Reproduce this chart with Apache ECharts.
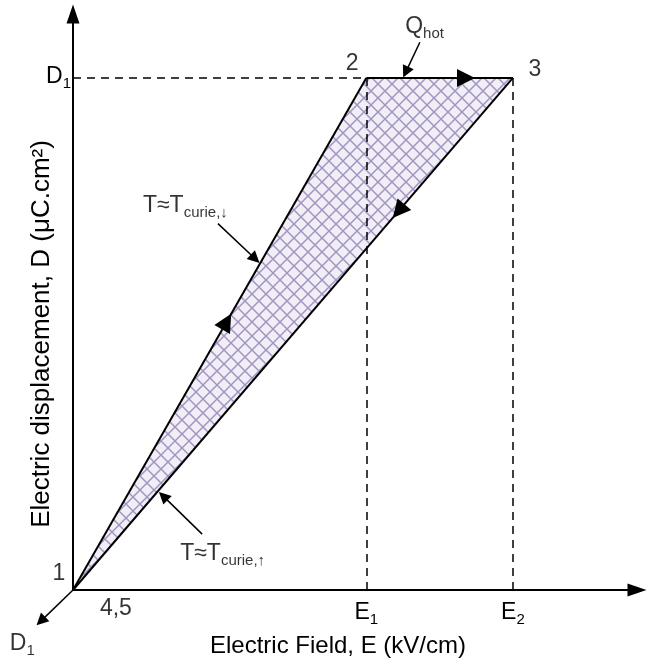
<!DOCTYPE html>
<html><head><meta charset="utf-8">
<script src="https://cdn.jsdelivr.net/npm/echarts@6/dist/echarts.min.js"></script>
<style>html,body{margin:0;padding:0;background:#fff}#c{width:648px;height:663px}</style>
</head><body><div id="c"></div>
<script>
// ---- values (data units: axes run 0..100) ----
const E1 = 52.0, E2 = 78.0, D1 = 88.9;
const cycleX = [0, E1, E2];          // states 1, 2, 3
const cycleY = [0, D1, D1];
const arrowFractions = [0.524, 0.68, 0.26]; // where the direction arrow sits on each edge
const xTickValues = [E1, E2];
const xTickLabels = ['{m|E}{s|1}', '{m|E}{s|2}'];
const yTickValues = [D1];
const yTickLabels = ['{m|D}{s|1}'];
const dashedX = [[0, E1], [E1, E1], [E2, E2]];
const dashedY = [[D1, D1], [0, D1], [0, D1]];
// annotation texts and anchors
const annoTexts = ['{m|Q}{s|hot}', '{m|T≈T}{s|curie,↓}', '{m|T≈T}{s|curie,↑}', '{m|D}{s|1}', '{m|1}', '{m|2}', '{m|3}', '{m|4,5}'];
const annoX = [58.9, 12.4, 19.0, -11.2, -2.5, 49.5, 81.9, 7.6];
const annoY = [97.5, 66.4, 6.0, -9.6, 2.5, 91.2, 90.0, -3.5];
const annoPos = ['right', 'right', 'right', 'right', 'inside', 'inside', 'inside', 'inside'];
// pointer arrows: from -> to (to = arrowhead centre)
const pointerFrom = [[61.5, 95.1], [25.7, 63.6], [22.9, 9.7], [0, 0]];
const pointerTo = [[59.0, 89.9], [32.3, 57.5], [16.0, 16.3], [-5.7, -5.4]];

const FF = 'Liberation Sans, Arial, Helvetica, sans-serif';
const rich = {
  m: {fontSize: 23, lineHeight: 26, verticalAlign: 'top', fontFamily: FF, color: '#000', textBorderWidth: 0},
  s: {fontSize: 15, lineHeight: 16, padding: [11, 0, 0, 0], verticalAlign: 'top', fontFamily: FF, color: '#000', textBorderWidth: 0}
};

// crosshatch pattern
const tile = document.createElement('canvas');
tile.width = 14; tile.height = 14;
const ctx = tile.getContext('2d');
ctx.fillStyle = '#f1eef5'; ctx.fillRect(0, 0, 14, 14);
ctx.strokeStyle = '#a394c4'; ctx.lineWidth = 1.5;
ctx.beginPath();
ctx.moveTo(-2, -2); ctx.lineTo(16, 16);
ctx.moveTo(-2, 16); ctx.lineTo(16, -2);
ctx.stroke();

// edges split at arrow positions
const n = cycleX.length;
const withArrow = [], noArrow = [];
for (let i = 0; i < n; i++) {
  const j = (i + 1) % n, f = arrowFractions[i];
  const mid = [cycleX[i] + (cycleX[j] - cycleX[i]) * f, cycleY[i] + (cycleY[j] - cycleY[i]) * f];
  withArrow.push({coords: [[cycleX[i], cycleY[i]], mid]});
  noArrow.push({coords: [mid, [cycleX[j], cycleY[j]]]});
}
const dashedData = dashedX.map((xs, i) => ({coords: [[xs[0], dashedY[i][0]], [xs[1], dashedY[i][1]]]}));
const pointerData = pointerFrom.map((p, i) => ({coords: [p, pointerTo[i]]}));
const annoData = annoTexts.map((t, i) => ({value: [annoX[i], annoY[i]],
  label: {formatter: t, position: annoPos[i], distance: 0, color: '#000', textBorderWidth: 0}}));

const chart = echarts.init(document.getElementById('c'), null, {renderer: 'canvas'});
chart.setOption({
  animation: false,
  backgroundColor: '#fff',
  grid: {left: 73, right: 11, top: 14, bottom: 72, containLabel: false},
  xAxis: {
    type: 'value', min: 0, max: 100,
    axisLine: {show: true, symbol: ['none', 'triangle'], symbolSize: [13, 19], lineStyle: {color: '#000', width: 2}},
    axisTick: {show: false}, splitLine: {show: false},
    axisLabel: {customValues: xTickValues, margin: 11, rich: rich, color: '#000',
      formatter: v => xTickLabels[xTickValues.indexOf(v)] || ''},
    name: 'Electric Field, E (kV/cm)', nameLocation: 'middle', nameGap: 44, nameMoveOverlap: false,
    nameTextStyle: {fontSize: 24, fontFamily: FF, color: '#000', padding: [0, 34, 0, 0]}
  },
  yAxis: {
    type: 'value', min: 0, max: 100,
    axisLine: {show: true, symbol: ['none', 'triangle'], symbolSize: [13, 19], lineStyle: {color: '#000', width: 2}},
    axisTick: {show: false}, splitLine: {show: false},
    axisLabel: {customValues: yTickValues, margin: 2, rich: rich, color: '#000',
      formatter: v => yTickLabels[yTickValues.indexOf(v)] || ''},
    name: 'Electric displacement, D (μC.cm²)', nameLocation: 'middle', nameRotate: 90, nameGap: 18, nameMoveOverlap: false,
    nameTextStyle: {fontSize: 26, fontFamily: FF, color: '#000', padding: [0, 64, 0, 0]}
  },
  series: [
    {
      type: 'custom', z: 1, silent: true,
      data: [0],
      renderItem: (params, api) => {
        const pts = cycleX.map((x, i) => api.coord([x, cycleY[i]]));
        return {type: 'polygon', shape: {points: pts}, style: {fill: {image: tile, repeat: 'repeat'}, stroke: null}};
      }
    },
    {
      type: 'lines', coordinateSystem: 'cartesian2d', z: 3, silent: true, clip: false,
      symbol: 'none', lineStyle: {color: '#000', width: 1.5, type: [8, 6], opacity: 1},
      data: dashedData
    },
    {
      type: 'lines', coordinateSystem: 'cartesian2d', z: 4, silent: true, clip: false,
      symbol: ['none', 'triangle'], symbolSize: [12, 18],
      lineStyle: {color: '#000', width: 2, opacity: 1}, itemStyle: {color: '#000'},
      data: withArrow
    },
    {
      type: 'lines', coordinateSystem: 'cartesian2d', z: 4, silent: true, clip: false,
      symbol: 'none', lineStyle: {color: '#000', width: 2, opacity: 1},
      data: noArrow
    },
    {
      type: 'lines', coordinateSystem: 'cartesian2d', z: 4, silent: true, clip: false,
      symbol: ['none', 'triangle'], symbolSize: [9, 12],
      lineStyle: {color: '#000', width: 1.5, opacity: 1}, itemStyle: {color: '#000'},
      data: pointerData
    },
    {
      type: 'scatter', z: 5, silent: true, clip: false, symbolSize: 0,
      label: {show: true, rich: rich, color: '#000', textBorderWidth: 0},
      data: annoData
    }
  ]
});
</script>
</body></html>
